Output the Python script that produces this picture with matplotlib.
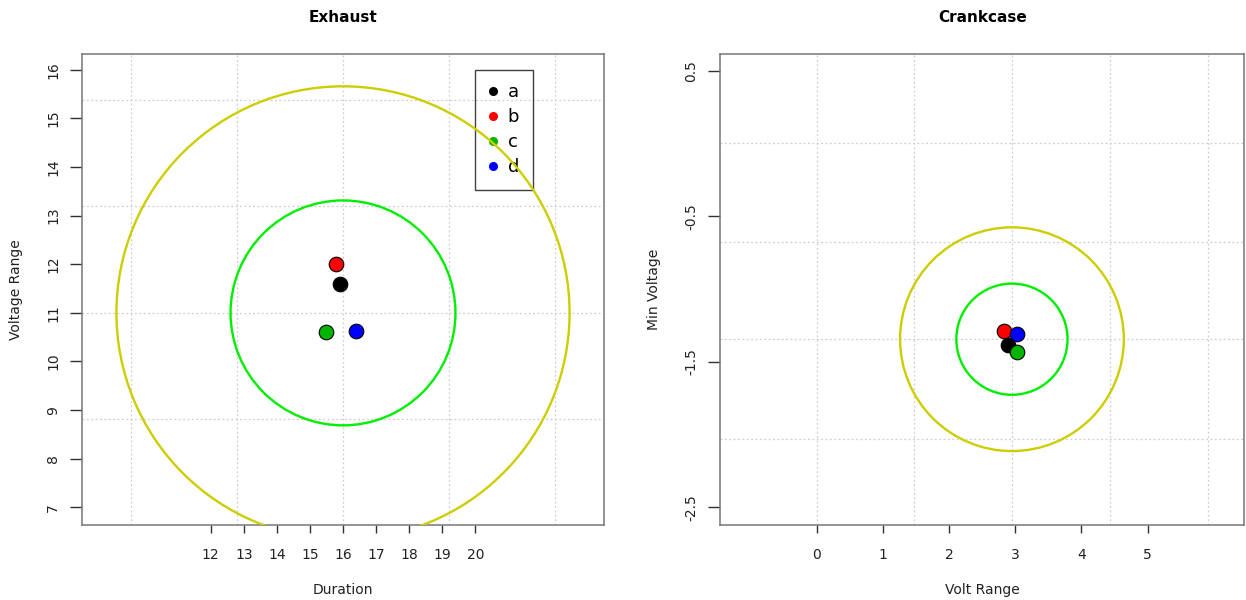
import numpy as np
import matplotlib
matplotlib.use("Agg")
import matplotlib.pyplot as plt
from matplotlib.patches import Ellipse
from matplotlib.lines import Line2D

# --------------------------
# Data
# --------------------------
labels = ["a", "b", "c", "d"]
colors = ["#000000", "#FF0000", "#00B400", "#0000FF"]

# Exhaust panel
ex_duration = [15.9, 15.8, 15.5, 16.4]
ex_vrange = [11.6, 12.0, 10.6, 10.63]
ex_center = (16.0, 11.0)
ex_radii = [3.4, 6.85]          # inner (green), outer (yellow), in x units
ex_xticks = [12, 13, 14, 15, 16, 17, 18, 19, 20]
ex_yticks = [7, 8, 9, 10, 11, 12, 13, 14, 15, 16]
ex_grid_x = [9.6, 12.8, 16.0, 19.2, 22.4]
ex_grid_y = [8.81, 11.0, 13.19, 15.38]
ex_xlim = (8.1, 23.9)
ex_ylim = (6.63, 16.32)

# Crankcase panel
ck_vrange = [2.89, 2.83, 3.03, 3.03]
ck_minv = [-1.385, -1.287, -1.431, -1.31]
ck_center = (2.95, -1.345)
ck_radii = [0.84, 1.69]
ck_xticks = [0, 1, 2, 3, 4, 5]
ck_yticks = [0.5, -0.5, -1.5, -2.5]
ck_grid_x = [0.0, 1.47, 2.95, 4.43, 5.91]
ck_grid_y = [0.0, -0.675, -1.345, -2.03]
ck_xlim = (-1.46, 6.46)
ck_ylim = (-2.624, 0.613)

circle_colors = ["#00EE00", "#CDCD00"]

W, H = 1246, 600
fig = plt.figure(figsize=(W / 100, H / 100), dpi=100)


def panel(rect, title, xlabel, ylabel, xs, ys, center, radii, xticks, yticks,
          gx, gy, xlim, ylim, legend_at=None):
    ax = fig.add_axes([rect[0] / W, 1 - rect[3] / H, (rect[2] - rect[0]) / W,
                       (rect[3] - rect[1]) / H])
    ax.set_xlim(*xlim)
    ax.set_ylim(*ylim)

    for v in gx:
        ax.axvline(v, color="#cfcfcf", lw=0.9, ls=(0, (1.5, 2)), zorder=0.5)
    for v in gy:
        ax.axhline(v, color="#cfcfcf", lw=0.9, ls=(0, (1.5, 2)), zorder=0.5)

    # circles drawn round in pixel space
    pw = rect[2] - rect[0]
    ph = rect[3] - rect[1]
    k = (pw / (xlim[1] - xlim[0])) / (ph / (ylim[1] - ylim[0]))
    for r, c in zip(radii, circle_colors):
        ax.add_patch(Ellipse(center, 2 * r, 2 * r * k, fill=False,
                             edgecolor=c, lw=1.7, zorder=3))

    for x, y, c in zip(xs, ys, colors):
        ax.plot(x, y, "o", ms=10.5, mfc=c, mec="black", mew=0.8, zorder=4)

    ax.set_xticks(xticks)
    ax.set_yticks(yticks)
    ax.set_xticklabels([str(t) for t in xticks])
    ax.set_yticklabels([str(t) for t in yticks], rotation=90, va="center")
    ax.tick_params(axis="x", length=5.8, width=1, color="#303030", pad=10.5,
                   labelsize=10, labelcolor="#222222")
    ax.tick_params(axis="y", length=8.5, width=1, color="#303030", pad=7,
                   labelsize=10, labelcolor="#222222")
    for s in ax.spines.values():
        s.set_color("#777777")
        s.set_linewidth(1.1)

    ax.set_title(title, fontsize=11, fontweight="bold", pad=23)
    ax.set_xlabel(xlabel, fontsize=10, color="#222222")
    ax.set_ylabel(ylabel, fontsize=10, color="#222222")
    ax.xaxis.set_label_coords(0.5, -0.122)
    ax.yaxis.set_label_coords(-0.112, 0.5)

    if legend_at is not None:
        handles = [Line2D([], [], ls="none", marker="o", ms=5.5, mfc=c, mec=c)
                   for c in colors]
        leg = ax.legend(handles, labels, loc="upper left",
                        bbox_to_anchor=legend_at,
                        bbox_transform=ax.transData, borderaxespad=0,
                        fontsize=13, frameon=True, fancybox=False,
                        facecolor="none", edgecolor="#404040", framealpha=1,
                        handlelength=0.5, handletextpad=0.55, borderpad=0.75,
                        labelspacing=0.38)
        leg.get_frame().set_linewidth(1.0)
        leg.set_zorder(2.5)
    return ax


panel((81.7, 54.3, 604.3, 525.3), "Exhaust", "Duration", "Voltage Range",
      ex_duration, ex_vrange, ex_center, ex_radii, ex_xticks, ex_yticks,
      ex_grid_x, ex_grid_y, ex_xlim, ex_ylim, legend_at=(20.0, 16.0))

panel((720.0, 54.3, 1244.3, 525.3), "Crankcase", "Volt Range", "Min Voltage",
      ck_vrange, ck_minv, ck_center, ck_radii, ck_xticks, ck_yticks,
      ck_grid_x, ck_grid_y, ck_xlim, ck_ylim)

fig.savefig("out.png", dpi=100)
